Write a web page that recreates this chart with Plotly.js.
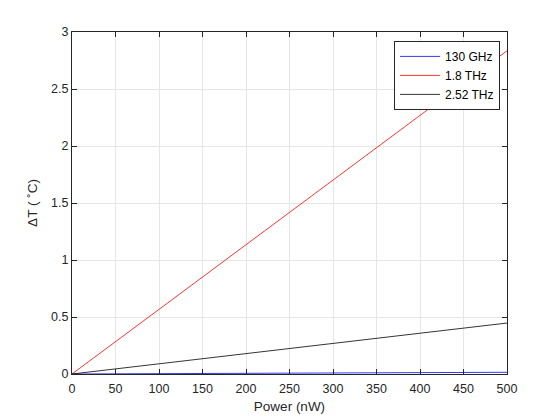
<!DOCTYPE html>
<html><head><meta charset="utf-8">
<script src="https://cdn.plot.ly/plotly-3.0.1.min.js"></script>
<style>html,body{margin:0;padding:0;background:#fff}</style>
</head><body>
<div id="chart" style="width:560px;height:420px"></div>
<script>
const power = [0, 50, 100, 150, 200, 250, 300, 350, 400, 450, 500];
const series130GHz = [0, 0.0015, 0.003, 0.0045, 0.006, 0.0075, 0.009, 0.0105, 0.012, 0.0135, 0.015];
const series18THz = [0, 0.283, 0.567, 0.85, 1.134, 1.417, 1.70, 1.984, 2.267, 2.55, 2.835];
const series252THz = [0, 0.045, 0.089, 0.134, 0.179, 0.224, 0.268, 0.313, 0.358, 0.402, 0.447];
const names = ['130 GHz', '1.8 THz', '2.52 THz'];
const colors = ['#0000ff', '#ff0000', '#000000'];
const ys = [series130GHz, series18THz, series252THz];

const traces = ys.map((y, i) => ({
  x: power, y: y, type: 'scatter', mode: 'lines', name: names[i],
  line: {color: colors[i], width: 0.8}
}));

const FONT = 'Liberation Sans, Arial, sans-serif';
const axisBase = {
  showline: true, linecolor: '#262626', linewidth: 1, mirror: 'ticks',
  ticks: 'inside', ticklen: 5, tickcolor: '#262626',
  showgrid: true, gridcolor: '#e6e6e6', gridwidth: 1, zeroline: false,
  tickfont: {family: FONT, size: 12.5, color: '#262626'}
};

const layout = {
  width: 560, height: 420,
  margin: {l: 72, r: 53, t: 32, b: 46},
  paper_bgcolor: '#fff', plot_bgcolor: '#fff',
  showlegend: true,
  xaxis: Object.assign({}, axisBase, {
    range: [0, 500], dtick: 50, tick0: 0, ticklabelstandoff: 3,
    title: {text: 'Power (nW)', font: {family: FONT, size: 13.5, color: '#262626'}, standoff: 6}
  }),
  yaxis: Object.assign({}, axisBase, {
    range: [0, 3], dtick: 0.5, tick0: 0,
    title: {text: 'ΔT ( ˚C)', font: {family: FONT, size: 13.5, color: '#262626'}, standoff: 10}
  }),
  legend: {
    x: 0.984, y: 0.974, xanchor: 'right', yanchor: 'top',
    bgcolor: '#fff', bordercolor: '#262626', borderwidth: 1,
    font: {family: FONT, size: 12, color: '#000'},
    itemwidth: 40, tracegroupgap: 0
  }
};

Plotly.newPlot('chart', traces, layout, {staticPlot: true, displayModeBar: false});
</script>
</body></html>
